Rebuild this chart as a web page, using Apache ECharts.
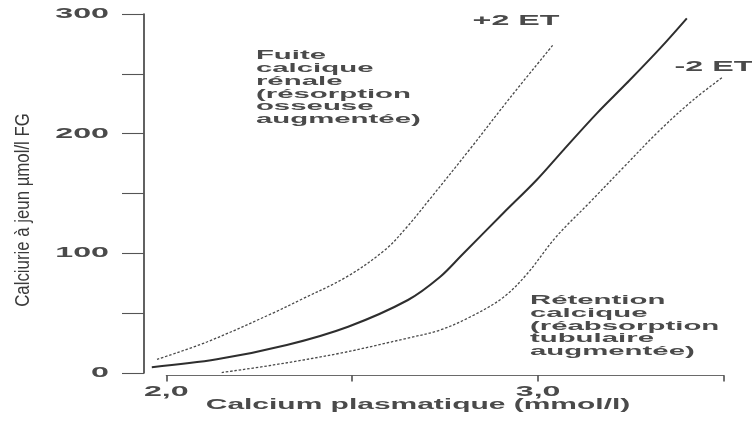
<!DOCTYPE html>
<html>
<head>
<meta charset="utf-8">
<script src="https://cdn.jsdelivr.net/npm/echarts@6/dist/echarts.min.js"></script>
<style>
  html, body { margin: 0; padding: 0; background: #ffffff; }
  #chart { width: 752px; height: 421px; }
</style>
</head>
<body>
<div id="chart"></div>
<script>
// Calciurie à jeun selon la calcémie : courbe moyenne et limites ±2 ET
// Points are [calcium plasmatique (mmol/l), calciurie (µmol/l FG)]
const courbeMoyenne = [
  [1.961, 4.8], [2.136, 11.4], [2.324, 23.4], [2.489, 38.7], [2.650, 61.0],
  [2.736, 80.2], [2.795, 98.6], [2.906, 133.5], [2.996, 161.3], [3.068, 186.3],
  [3.158, 217.0], [3.238, 242.1], [3.328, 271.3], [3.400, 296.4]
];
const courbePlus2ET = [
  [1.975, 11.4], [2.109, 25.9], [2.287, 50.1], [2.360, 61.0], [2.486, 80.5],
  [2.588, 102.8], [2.645, 121.2], [2.709, 145.4], [2.817, 187.2], [2.924, 229.8],
  [3.040, 274.1]
];
const courbeMoins2ET = [
  [2.149, 0.4], [2.288, 6.7], [2.467, 16.5], [2.647, 29.0], [2.736, 35.9],
  [2.817, 46.8], [2.906, 63.1], [2.970, 82.7], [3.048, 113.6], [3.140, 142.9],
  [3.228, 171.3], [3.328, 203.1], [3.417, 228.1], [3.498, 247.6]
];

// Tick labels
const yTickValues = [0, 100, 200, 300];
const xTickValues = [2.0, 3.0];
const xTickLabels = ['2,0', '3,0'];

// Annotations: anchor [x, y] and text
const etLabels = ['+2 ET', '-2 ET'];
const etAnchors = [[2.9405, 294], [3.473, 255.7]];
const zoneLabels = [
  'Fuite\ncalcique\nrénale\n(résorption\nosseuse\naugmentée)',
  'Rétention\ncalcique\n(réabsorption\ntubulaire\naugmentée)'
];
const zoneAnchors = [[2.241, 238.5], [2.978, 39.2]];

const xTitle = 'Calcium plasmatique (mmol/l)';
const yTitle = 'Calciurie à jeun µmol/l FG';

// Layout
const X_MIN = 1.94, X_MAX = 3.5;
const G_LEFT = 144, G_RIGHT = 28, G_TOP = 14, G_BOTTOM = 48;
const gridWidth = 752 - G_LEFT - G_RIGHT;
const xAxisLeft = G_LEFT + (2.0 - X_MIN) * gridWidth / (X_MAX - X_MIN);

const FONT = "'Liberation Sans', Arial, Helvetica, sans-serif";
const INK = '#4a4a4a';

// Text drawn at data coordinates, stretched horizontally like the printed typeface
function textSeries(cfg) {
  return {
    type: 'custom',
    xAxisIndex: cfg.xi || 0,
    yAxisIndex: cfg.yi || 0,
    silent: true,
    clip: false,
    z: 5,
    data: cfg.points,
    renderItem: function (params, api) {
      const p = api.coord([api.value(0), api.value(1)]);
      return {
        type: 'text',
        x: p[0] + (cfg.dx || 0),
        y: p[1] + (cfg.dy || 0),
        scaleX: cfg.sx,
        scaleY: 1,
        style: {
          text: cfg.texts[params.dataIndex],
          fontFamily: FONT,
          fontSize: cfg.size,
          fontWeight: 'bold',
          fill: INK,
          align: cfg.align,
          textAlign: cfg.align,
          verticalAlign: 'middle',
          textVerticalAlign: 'middle',
          lineHeight: cfg.lh || cfg.size
        }
      };
    }
  };
}

const dotted = { color: '#4a4a4a', width: 1.3, type: [2.5, 1.8] };

const chart = echarts.init(document.getElementById('chart'), null, { renderer: 'canvas' });

chart.setOption({
  animation: false,
  backgroundColor: '#ffffff',
  grid: [
    { left: G_LEFT, right: G_RIGHT, top: G_TOP, bottom: G_BOTTOM },
    { left: xAxisLeft, right: G_RIGHT, top: G_TOP, bottom: G_BOTTOM - 2.5 }
  ],
  xAxis: [
    { type: 'value', gridIndex: 0, min: X_MIN, max: X_MAX, show: false },
    {
      type: 'value', gridIndex: 1, min: 2.0, max: 3.5, interval: 0.5,
      axisLine: { show: true, lineStyle: { color: '#6a6a6a', width: 1.2 } },
      axisTick: { show: true, inside: false, length: 6, lineStyle: { color: '#444', width: 1.5 } },
      axisLabel: { show: false },
      splitLine: { show: false }
    }
  ],
  yAxis: [
    {
      type: 'value', gridIndex: 0, min: 0, max: 300, interval: 50,
      axisLine: { show: true, lineStyle: { color: '#3a3a3a', width: 1.6 } },
      axisTick: { show: true, inside: false, length: 22, lineStyle: { color: '#555', width: 1.1 } },
      axisLabel: { show: false },
      splitLine: { show: false }
    },
    { type: 'value', gridIndex: 1, min: 0, max: 300, show: false }
  ],
  graphic: [
    {
      type: 'text', x: 418, y: 405, scaleX: 2.14, silent: true,
      style: {
        text: xTitle, fontFamily: FONT, fontSize: 14, fontWeight: 'bold', fill: INK,
        align: 'center', textAlign: 'center', verticalAlign: 'middle', textVerticalAlign: 'middle'
      }
    },
    {
      type: 'text', x: 23.5, y: 210, rotation: Math.PI / 2, scaleX: 0.84, silent: true,
      style: {
        text: yTitle, fontFamily: FONT, fontSize: 20, fill: '#3a3a3a',
        align: 'center', textAlign: 'center', verticalAlign: 'middle', textVerticalAlign: 'middle'
      }
    }
  ],
  series: [
    {
      name: 'Moyenne', type: 'line', data: courbeMoyenne, smooth: 0.35,
      showSymbol: false, lineStyle: { color: '#2e2e2e', width: 2 }
    },
    {
      name: '+2 ET', type: 'line', data: courbePlus2ET, smooth: 0.35,
      showSymbol: false, lineStyle: dotted
    },
    {
      name: '-2 ET', type: 'line', data: courbeMoins2ET, smooth: 0.35,
      showSymbol: false, lineStyle: dotted
    },
    textSeries({
      points: yTickValues.map(v => [X_MIN, v]), texts: yTickValues.map(String),
      dx: -35, dy: 0, sx: 2.3, size: 14, align: 'right'
    }),
    textSeries({
      xi: 1, yi: 1,
      points: xTickValues.map(v => [v, 0]), texts: xTickLabels,
      dx: 0, dy: 17, sx: 2.3, size: 14, align: 'center'
    }),
    textSeries({
      points: etAnchors, texts: etLabels,
      sx: 2.3, size: 14, align: 'center'
    }),
    textSeries({
      points: zoneAnchors, texts: zoneLabels,
      sx: 2.26, size: 13, lh: 12.8, align: 'left'
    })
  ]
});
</script>
</body>
</html>
